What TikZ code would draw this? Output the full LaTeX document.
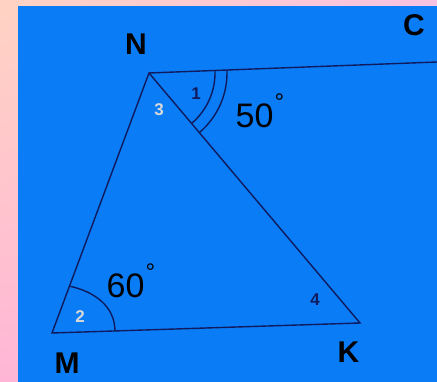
\documentclass[tikz,border=0pt]{standalone}
\usepackage{fontspec}
\setmainfont{Liberation Sans}
\usetikzlibrary{angles,calc,shadings}

\definecolor{fond}{HTML}{0A7CF6}
\definecolor{encre}{HTML}{101A5E}
\definecolor{peche}{HTML}{FFD3C3}
\definecolor{rose}{HTML}{FFB6D6}
\definecolor{roseclair}{HTML}{F8C2E2}

\newcommand{\degsign}{\kern1pt\raisebox{17pt}{\fontsize{24}{24}\selectfont °}}

\tikzset{
  cote/.style={draw=encre, line width=1.4pt},
  sommet/.style={font=\fontsize{30}{30}\selectfont\bfseries, inner sep=0pt},
  mesure/.style={font=\fontsize{34}{34}\selectfont, inner sep=0pt, anchor=base west},
  numero/.style={font=\fontsize{17}{17}\selectfont\bfseries, inner sep=0pt}
}

\begin{document}
\begin{tikzpicture}[x=1pt,y=1pt]
\useasboundingbox (0,0) rectangle (437,382);
\clip (0,0) rectangle (437,382);

% Fond
\shade[upper left=peche, lower left=rose, upper right=roseclair, lower right=rose]
  (0,0) rectangle (437,382);
\fill[fond] (18,0) rectangle (437,376);

% Sommets
\coordinate (N) at (149,309);
\coordinate (M) at (52,49);
\coordinate (K) at (360,59);
\coordinate (c) at (437,320);

% Cotes du triangle et demi-droite NC
\draw[cote] (M) -- (N) -- (K) -- cycle;
\draw[cote] (N) -- (c);

% Arcs
\pic[cote, angle radius=66pt] {angle=K--N--c};
\pic[cote, angle radius=78pt] {angle=K--N--c};
\draw[cote] ($(M)!50pt!(N)$) to[out=-12, in=90] ($(M)!63pt!(K)$);

% Noms des points
\node[sommet] (lN) at (136,338) {N};
\node[sommet] (lC) at (414,357) {C};
\node[sommet] (lM) at (67,19) {M};
\node[sommet] (lK) at (348.5,29.5) {K};

% Mesures
\node[mesure] (a50) at (235.5,254) {50\degsign};
\node[mesure] (a60) at (106.5,84) {60\degsign};

% Numeros des angles
\node[numero, text=encre] (n1) at (196,288) {1};
\node[numero, text=white!85!black] (n3) at (159,272) {3};
\node[numero, text=white!85!black] (n2) at (80,65) {2};
\node[numero, text=encre] (n4) at (315,82.5) {4};
\end{tikzpicture}
\end{document}
